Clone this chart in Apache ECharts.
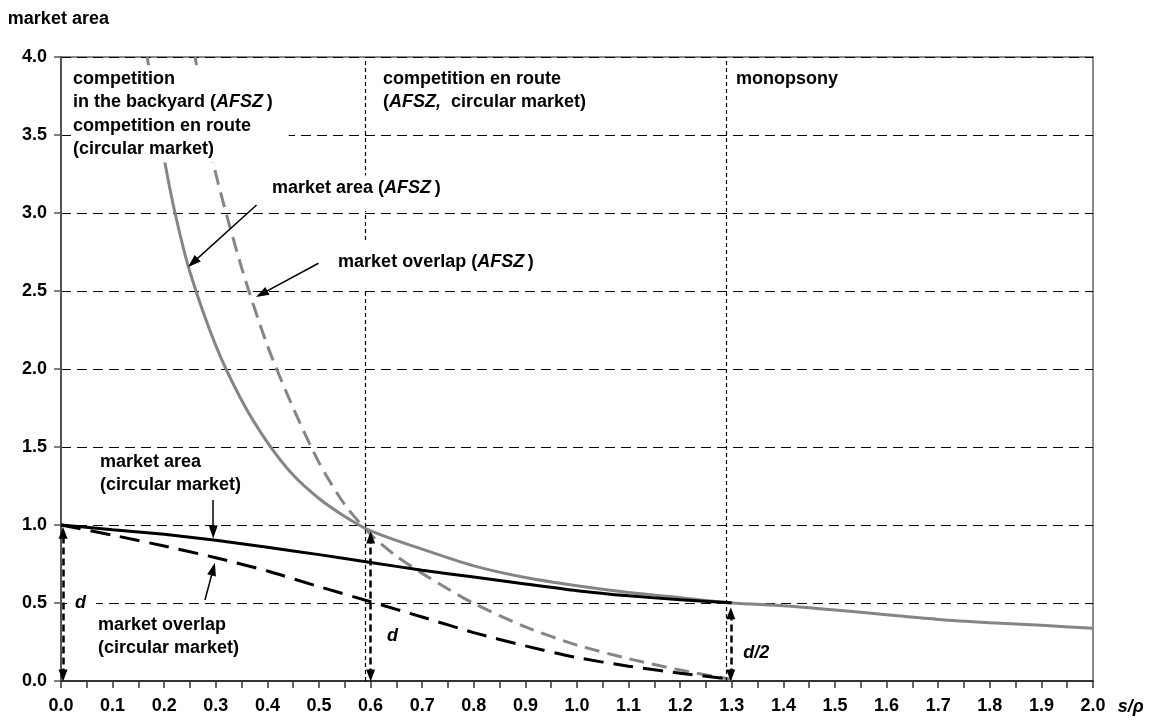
<!DOCTYPE html>
<html>
<head>
<meta charset="utf-8">
<script src="https://cdn.jsdelivr.net/npm/echarts@6/dist/echarts.min.js"></script>
<style>html,body{margin:0;padding:0;background:#fff}#c{width:1152px;height:720px}</style>
</head>
<body>
<div id="c"></div>
<script>
// ---- data ----
const afszAreaX = [0.167,0.2,0.221,0.25,0.3,0.35,0.4,0.45,0.5,0.55,0.6,0.7,0.8,0.9,1.0,1.1,1.2,1.3,1.4,1.5,1.6,1.7,1.8,1.9,2.0];
const afszAreaY = [4.0,3.35,3.0,2.62,2.15,1.80,1.53,1.32,1.17,1.055,0.963,0.845,0.738,0.663,0.61,0.567,0.534,0.5,0.482,0.455,0.425,0.395,0.374,0.357,0.338];
const afszOverlapX = [0.26,0.296,0.35,0.4,0.45,0.5,0.55,0.6,0.65,0.7,0.75,0.8,0.9,1.0,1.1,1.2,1.3];
const afszOverlapY = [4.0,3.31,2.65,2.15,1.75,1.40,1.13,0.94,0.80,0.69,0.59,0.497,0.347,0.23,0.143,0.07,0.01];
const circX = [0,0.1,0.2,0.3,0.4,0.5,0.6,0.7,0.8,0.9,1.0,1.1,1.2,1.3];
const circAreaY = [1.0,0.97,0.94,0.902,0.857,0.81,0.76,0.71,0.666,0.622,0.579,0.546,0.521,0.502];
const circOverlapY = [1.0,0.935,0.865,0.79,0.705,0.605,0.508,0.41,0.31,0.225,0.15,0.095,0.05,0.01];
const regimeBounds = [0.592, 1.29];
const xTicks = {min:0, max:2, interval:0.1};
const yTicks = {min:0, max:4, interval:0.5};

const FONT = '"Liberation Sans", Arial, Helvetica, sans-serif';
const zip = (xs, ys) => xs.map((x, i) => [x, ys[i]]);

const chart = echarts.init(document.getElementById('c'), null, {renderer:'canvas'});

const thinArrow = (from, to) => [
  {coord: from, symbol: 'none'},
  {coord: to, symbol: 'triangle', symbolSize: [9, 13]}
];
const dblArrow = (x, y0, y1) => [
  {coord: [x, y0]},
  {coord: [x, y1]}
];

chart.setOption({
  animation: false,
  backgroundColor: '#fff',
  grid: {left: 61, right: 59, top: 57, bottom: 39, show: true, borderColor: '#8a8a8a', borderWidth: 2, backgroundColor: 'transparent'},
  xAxis: {
    type: 'value', min: xTicks.min, max: xTicks.max, interval: xTicks.interval,
    axisLine: {show: true, onZero: false, lineStyle: {color: '#333', width: 2}},
    axisTick: {show: true, inside: false, length: 7, lineStyle: {color: '#333', width: 1.5}},
    minorTick: {show: true, splitNumber: 2, length: 7, lineStyle: {color: '#333', width: 1.5}},
    splitLine: {show: false},
    axisLabel: {margin: 16, fontFamily: FONT, fontWeight: 'bold', fontSize: 18, color: '#000',
      formatter: v => v.toFixed(1)}
  },
  yAxis: {
    type: 'value', min: yTicks.min, max: yTicks.max, interval: yTicks.interval,
    axisLine: {show: true, onZero: false, lineStyle: {color: '#555', width: 2}},
    axisTick: {show: true, inside: false, length: 7, lineStyle: {color: '#555', width: 1.5}},
    splitLine: {show: true, lineStyle: {color: '#000', width: 1, type: [10, 6]}},
    axisLabel: {margin: 14, fontFamily: FONT, fontWeight: 'bold', fontSize: 18, color: '#000',
      formatter: v => v.toFixed(1)}
  },
  series: [
    {
      name: 'market area (AFSZ)', type: 'line', data: zip(afszAreaX, afszAreaY),
      showSymbol: false, smooth: 0.25, clip: true, z: 3,
      lineStyle: {color: '#858585', width: 3}
    },
    {
      name: 'market overlap (AFSZ)', type: 'line', data: zip(afszOverlapX, afszOverlapY),
      showSymbol: false, smooth: 0.25, clip: true, z: 3,
      lineStyle: {color: '#858585', width: 3, type: [15, 8]}
    },
    {
      name: 'market area (circular market)', type: 'line', data: zip(circX, circAreaY),
      showSymbol: false, smooth: 0.25, z: 4,
      lineStyle: {color: '#000', width: 3},
      markLine: {
        silent: true, animation: false, label: {show: false},
        lineStyle: {color: '#000', width: 1.5, type: 'solid'},
        data: [
          thinArrow([0.379, 3.051], [0.2556, 2.682]),
          thinArrow([0.499, 2.678], [0.389, 2.481]),
          thinArrow([0.295, 1.16], [0.295, 0.955]),
          thinArrow([0.279, 0.519], [0.295, 0.717])
        ]
      }
    },
    {
      name: 'market overlap (circular market)', type: 'line', data: zip(circX, circOverlapY),
      showSymbol: false, smooth: 0.25, z: 4,
      lineStyle: {color: '#000', width: 3, type: [20, 10]},
      markLine: {
        silent: true, animation: false, label: {show: false},
        symbol: ['triangle', 'triangle'], symbolSize: [9, 12],
        lineStyle: {color: '#000', width: 2.5, type: [7, 4]},
        data: [
          dblArrow(0.004, 0.035, 0.95),
          dblArrow(0.6, 0.035, 0.92),
          dblArrow(1.298, 0.035, 0.435)
        ]
      }
    },
    {
      name: 'regimes', type: 'line', data: [], z: 2,
      markLine: {
        silent: true, animation: false, label: {show: false}, symbol: ['none', 'none'],
        lineStyle: {color: '#000', width: 1.2, type: [4, 3]},
        data: regimeBounds.map(v => ({xAxis: v}))
      }
    }
  ]
});

// ---- annotations (anchored in data units) ----
const LH = 23.3;
const rich = {
  i: {fontStyle: 'italic', fontWeight: 'bold', fontSize: 18, fontFamily: FONT, lineHeight: LH, fill: '#000', color: '#000'},
  n: {fontStyle: 'normal', fontWeight: 'bold', fontSize: 18, fontFamily: FONT, lineHeight: LH, fill: '#000', color: '#000'}
};
const notes = [
  {at: [0.0233, 3.859], text: 'competition\nin the backyard ({i|AFSZ}\u2009)\ncompetition en route\n(circular market)', bg: '#fff', pad: [2, 16, 2, 2]},
  {at: [0.624, 3.859], text: 'competition en route\n({i|AFSZ,}  circular market)'},
  {at: [1.308, 3.859], text: 'monopsony'},
  {at: [0.409, 3.160], text: 'market area ({i|AFSZ}\u2009)', bg: '#fff', pad: [1, 4, 11, 4]},
  {at: [0.537, 2.686], text: 'market overlap ({i|AFSZ}\u2009)', bg: '#fff', pad: [8, 4, 15, 4]},
  {at: [0.0756, 1.404], text: 'market area\n(circular market)'},
  {at: [0.0717, 0.359], text: 'market overlap\n(circular market)'},
  {at: [0.0271, 0.5], text: '{i|d}', bg: '#fff', pad: [2, 10, 2, 8]},
  {at: [0.632, 0.288], text: '{i|d}'},
  {at: [1.322, 0.179], text: '{i|d/2}'},
  {at: [-0.103, 4.244], text: 'market area'},
  {at: [2.048, -0.167], text: '{i|s/\u03c1}'}
];
const graphics = notes.map(n => {
  const p = chart.convertToPixel({gridIndex: 0}, n.at);
  const pad = n.pad || [0, 0, 0, 0];
  return {
    type: 'text', z: 10, zlevel: 0, silent: true,
    x: p[0] - pad[3], y: p[1] - LH / 2 - pad[0],
    style: {
      text: n.text, fill: '#000',
      fontFamily: FONT, fontSize: 18, fontWeight: 'bold', lineHeight: LH,
      align: 'left', verticalAlign: 'top', textAlign: 'left', textVerticalAlign: 'top',
      backgroundColor: n.bg || 'transparent', padding: pad, rich: rich
    }
  };
});
chart.setOption({graphic: {elements: graphics}});
</script>
</body>
</html>
